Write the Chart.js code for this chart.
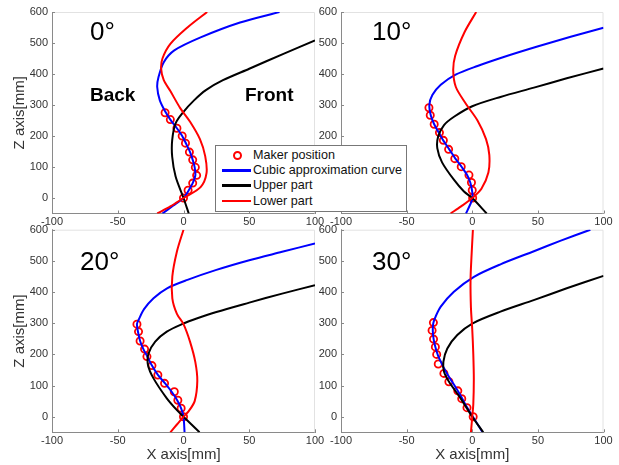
<!DOCTYPE html>
<html>
<head>
<meta charset="utf-8">
<script src="https://cdn.jsdelivr.net/npm/chart.js@4"></script>
<style>
  body { margin: 0; background: #fff; }
  #wrap { position: relative; width: 619px; height: 465px; overflow: hidden; font-family: "Liberation Sans", Arial, sans-serif; }
  #wrap canvas { position: absolute; left: 0; top: 0; }
  .note { position: absolute; color: #000; white-space: nowrap; }
  .angle { font-size: 26px; line-height: 26px; }
  .side { font-size: 19px; line-height: 19px; font-weight: bold; }
  #legend { position: absolute; left: 215px; top: 145px; width: 190px; height: 63px; background: #fff;
            border: 1px solid #777; z-index: 5; padding-top: 2px; box-sizing: content-box; }
  #legend .row { position: relative; height: 15.2px; font-size: 12.6px; line-height: 15.2px; color: #111; }
  #legend .swatch { position: absolute; left: 6px; top: 6px; width: 29px; height: 2.5px; }
  #legend .dot { position: absolute; left: 17px; top: 3px; width: 5px; height: 5px; border: 2px solid #f00; border-radius: 50%; }
  #legend .txt { position: absolute; left: 37px; top: 0; }
</style>
</head>
<body>
<div id="wrap">
  <canvas id="c0" width="619" height="465"></canvas>
  <canvas id="c1" width="619" height="465"></canvas>
  <canvas id="c2" width="619" height="465"></canvas>
  <canvas id="c3" width="619" height="465"></canvas>
  <div class="note angle" style="left:90px;top:18px">0°</div>
  <div class="note angle" style="left:372px;top:18px">10°</div>
  <div class="note angle" style="left:80px;top:248px">20°</div>
  <div class="note angle" style="left:372px;top:248px">30°</div>
  <div class="note side" style="left:90px;top:85px">Back</div>
  <div class="note side" style="left:245px;top:85px">Front</div>
  <div id="legend"></div>
</div>
<script>
// tick labels and ranges
const xTicks = [-100, -50, 0, 50, 100];
const zTicks = [0, 100, 200, 300, 400, 500, 600];
const angles = ['0°', '10°', '20°', '30°'];
const seriesNames = ['Maker position', 'Cubic approximation curve', 'Upper part', 'Lower part'];
const seriesColors = ['#ff0000', '#0000ff', '#000000', '#ff0000'];

// 0 deg  [x, z] in mm
const markers0 = [[-14,275],[-10,253],[-5,225],[-1,200],[1.5,177],[4.5,148],[7,123],[9,99],[10,73],[7,48],[3.5,25],[0,0]];
const cubic0 = [[73,600],[43,566],[13,518],[-7,476],[-15,438],[-19,390],[-20,358],[-18,315],[-14,280],[-10,253],[-5,225],[-1,200],[2,175],[5,148],[7,123],[8.5,99],[9,73],[7,48],[4,25],[0,0],[-8,-25],[-16,-50]];
const upper0 = [[100,508],[76,465],[50,417],[30,380],[17,348],[8,315],[0,278],[-6,241],[-8.6,187],[-8.6,133],[-6,69],[0,0],[4,-50]];
const lower0 = [[18,600],[3,550],[-10,497],[-16,450],[-17,417],[-15,380],[-10,345],[-2.5,290],[5,246],[12.5,190],[16.5,135],[17.5,80],[13,35],[0,0],[-10,-27],[-20,-50]];

// 10 deg
const markers10 = [[-33,291],[-32,267],[-29,238],[-25,211],[-22,186],[-18,157],[-13.3,127],[-8.4,101],[-2.5,74],[-0.6,50],[0,25],[0.3,0]];
const cubic10 = [[100,549],[75,520],[49,488],[24,455],[4,426],[-12.7,398],[-24,365],[-30.4,332],[-32.7,300],[-31.5,265],[-29,238],[-25.5,211],[-22,185],[-17.5,157],[-13,128],[-8,100],[-4,75],[-1.5,50],[-0.2,25],[0.3,0],[-2,-25],[-4.8,-50]];
const upper10 = [[100,418],[72,386],[47,356],[21.5,326],[0,296],[-13.9,262],[-21.5,235],[-26,198],[-26.6,160],[-23,115],[-14,59],[-6.3,21],[0,0],[11,-50]];
const lower10 = [[3,600],[-6,534],[-13,459],[-14.5,411],[-12.5,358],[-5,305],[4,250],[10.5,190],[13,139],[12.3,82],[7,30],[0,0],[-8.5,-27],[-16.5,-50]];

// 20 deg
const markers20 = [[-35.4,297],[-34.2,273],[-33,243],[-29.6,217],[-27.8,193],[-24,164],[-19.5,134],[-14.4,107],[-7,80],[-4.3,53],[-1.8,27],[0,0]];
const cubic20 = [[100,556],[75,529],[50,502],[25,471],[3,439],[-12.5,412],[-22.8,380],[-30,345],[-34,312],[-35.4,297],[-34.5,270],[-33,243],[-30.5,217],[-27.5,193],[-24,164],[-19.5,134],[-14,107],[-9,80],[-4.8,53],[-1.8,27],[0,0],[0.8,-50]];
const upper20 = [[100,422],[75,395],[50,366],[25,336],[10,315],[0,299],[-12.7,273],[-21.5,241],[-26.6,203],[-27,166],[-22.8,123],[-12.7,59],[-5,21],[0,0],[12.2,-50]];
const lower20 = [[0,600],[-5,530],[-8.5,450],[-8.5,380],[-5,330],[0,297],[5,240],[9,175],[10.5,115],[8.5,50],[4,18],[0,0],[-5,-25],[-10,-50]];

// 30 deg
const markers30 = [[-29.6,302],[-30.6,277],[-29.5,249],[-28.1,224],[-27.1,200],[-25.9,169],[-21.6,139],[-17.8,112],[-11,83],[-8,58],[-4,29],[0.7,0]];
const cubic30 = [[90,600],[67,564],[47,531],[21.5,489],[1.3,449],[-14,401],[-24,353],[-29,310],[-30,290],[-29.8,260],[-28.5,230],[-26,195],[-22,160],[-18,130],[-13.5,100],[-8.5,65],[-4,30],[0.5,0],[7.6,-48]];
const upper30 = [[100,452],[72,412],[46.8,374],[21.5,337],[0,299],[-11.4,262],[-19,219],[-22,176],[-21.5,144],[-17.7,112],[-8.9,59],[0,0],[8.4,-50]];
const lower30 = [[0.5,600],[-0.5,520],[-1.3,440],[-1,350],[0,280],[0.8,200],[1.2,120],[0.8,40],[0,0],[-1,-50]];

const panels = [
  { data: [markers0, cubic0, upper0, lower0], box: [52, 315, 12, 213.5], zTitle: true, xTitle: false },
  { data: [markers10, cubic10, upper10, lower10], box: [341, 603.5, 12, 213.5], zTitle: false, xTitle: false },
  { data: [markers20, cubic20, upper20, lower20], box: [52, 315, 229.7, 432.3], zTitle: true, xTitle: true },
  { data: [markers30, cubic30, upper30, lower30], box: [341, 603.5, 229.7, 432.3], zTitle: false, xTitle: true }
];

const W = 619, H = 465, AXIS_W = 41, AXIS_H = 32;
const tickFont = { family: '"Liberation Sans", Arial, sans-serif', size: 11 };
const titleFont = { family: '"Liberation Sans", Arial, sans-serif', size: 15 };

const toPts = arr => arr.map(p => ({ x: p[0], y: p[1] }));

// light frame on top/right plus short inward ticks
const framePlugin = {
  id: 'frame',
  beforeDatasetsDraw(chart) {
    const { ctx, chartArea: a, scales: { x, y } } = chart;
    ctx.save();
    ctx.lineWidth = 1;
    ctx.strokeStyle = '#e2e2e2';
    ctx.beginPath();
    ctx.moveTo(a.left, a.top + 0.5);
    ctx.lineTo(a.right - 0.5, a.top + 0.5);
    ctx.lineTo(a.right - 0.5, a.bottom);
    ctx.stroke();
    ctx.strokeStyle = '#888';
    ctx.beginPath();
    xTicks.forEach(v => {
      const px = Math.round(x.getPixelForValue(v)) + 0.5;
      ctx.moveTo(px, a.bottom); ctx.lineTo(px, a.bottom - 3);
    });
    zTicks.forEach(v => {
      const py = Math.round(y.getPixelForValue(v)) + 0.5;
      ctx.moveTo(a.left, py); ctx.lineTo(a.left + 3, py);
    });
    ctx.stroke();
    ctx.restore();
  }
};

function makeChart(id, panel) {
  const [L, R, T, B] = panel.box;
  const [mk, cu, up, lo] = panel.data;
  const line = (d, color, order) => ({
    data: toPts(d), showLine: true, borderColor: color, borderWidth: 2,
    pointRadius: 0, tension: 0.3, order
  });
  return new Chart(document.getElementById(id), {
    type: 'scatter',
    data: {
      datasets: [
        { data: toPts(mk), showLine: false, pointStyle: 'circle', pointRadius: 3.6,
          borderColor: seriesColors[0], backgroundColor: 'rgba(0,0,0,0)', borderWidth: 1.8, order: 4 },
        line(cu, seriesColors[1], 3),
        line(up, seriesColors[2], 2),
        line(lo, seriesColors[3], 1)
      ]
    },
    options: {
      responsive: false,
      animation: false,
      devicePixelRatio: 1,
      layout: { padding: { left: L - AXIS_W, right: W - R, top: T, bottom: H - B - AXIS_H } },
      plugins: { legend: { display: false }, tooltip: { enabled: false } },
      scales: {
        x: {
          type: 'linear', min: -100, max: 100,
          afterBuildTicks: s => { s.ticks = xTicks.map(v => ({ value: v })); },
          afterFit: s => { s.height = AXIS_H; },
          grid: { drawOnChartArea: false, drawTicks: false },
          border: { color: '#8a8a8a', width: 1 },
          ticks: { font: tickFont, color: '#333', padding: 2, maxRotation: 0 },
          title: { display: panel.xTitle, text: 'X axis[mm]', font: titleFont, color: '#333', padding: 0 }
        },
        y: {
          type: 'linear', min: -50, max: 600,
          afterBuildTicks: s => { s.ticks = zTicks.map(v => ({ value: v })); },
          afterFit: s => { s.width = AXIS_W; },
          grid: { drawOnChartArea: false, drawTicks: false },
          border: { color: '#8a8a8a', width: 1 },
          ticks: { font: tickFont, color: '#333', padding: 4 },
          title: { display: panel.zTitle, text: 'Z axis[mm]', font: titleFont, color: '#333', padding: 0 }
        }
      }
    },
    plugins: [framePlugin]
  });
}

panels.forEach((p, i) => makeChart('c' + i, p));

// legend
const legend = document.getElementById('legend');
seriesNames.forEach((name, i) => {
  const row = document.createElement('div');
  row.className = 'row';
  const mark = document.createElement('div');
  if (i === 0) {
    mark.className = 'dot';
  } else {
    mark.className = 'swatch';
    mark.style.background = seriesColors[i];
  }
  const txt = document.createElement('div');
  txt.className = 'txt';
  txt.textContent = name;
  row.appendChild(mark);
  row.appendChild(txt);
  legend.appendChild(row);
});
</script>
</body>
</html>
